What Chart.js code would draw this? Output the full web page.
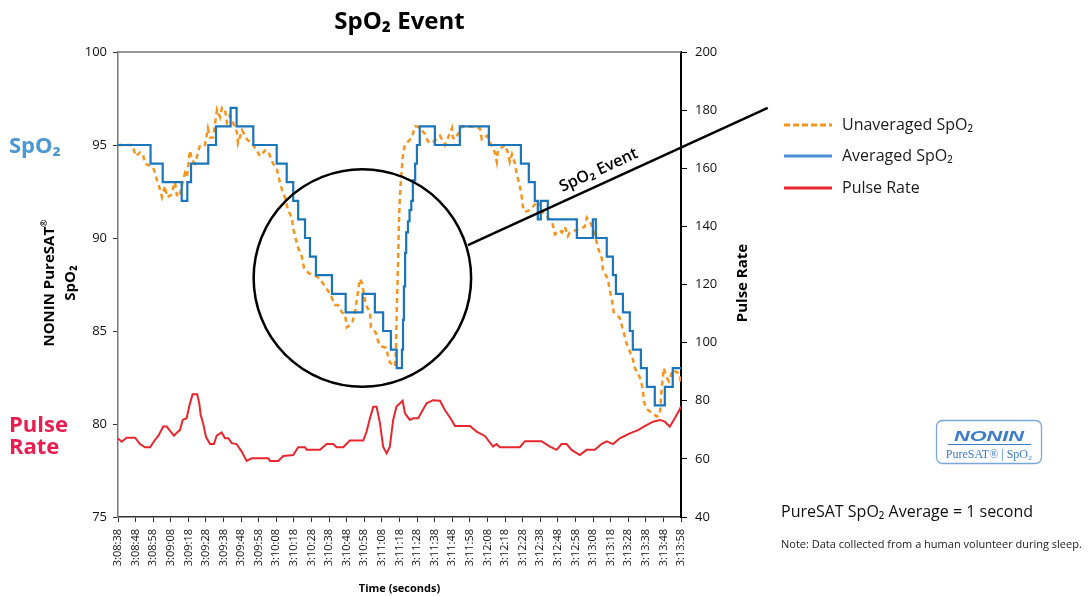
<!DOCTYPE html>
<html>
<head>
<meta charset="utf-8">
<title>SpO2 Event</title>
<script src="https://cdn.jsdelivr.net/npm/chart.js@4.4.1/dist/chart.umd.min.js"></script>
<style>
  html, body { margin: 0; padding: 0; background: #fff; }
  #wrap { position: relative; width: 1089px; height: 596px; }
</style>
</head>
<body>
<div id="wrap"><canvas id="chart" width="1089" height="596"></canvas></div>
<script>
// Time axis: seconds after 3:08:38
const START_SECONDS = 3 * 3600 + 8 * 60 + 38;
const TIME_MIN = 0;
const TIME_MAX = 320;
const TIME_STEP = 10;

// Axis ranges
const spo2Range = [75, 100, 5];
const pulseRange = [40, 200, 20];

// Averaged SpO2 (stepped): second where each level starts, and the level
const avgTime = [0, 18.5, 25.4, 36.2, 39.4, 41.5, 51.3, 55.7, 64, 67.4, 76.9, 90.2, 95.9, 99.6, 102.4,
  106.3, 109.1, 112.5, 121.6, 129.4, 139, 146, 150.7, 155.1, 158.4,
  160.6, 161.4, 162, 162.5, 163.2, 163.8, 164.8, 165.7, 166.7, 167.6, 168.9, 169.9, 171.5,
  180.1, 194.3, 210.8, 229, 233.5, 236.9, 238.6, 240.3, 244.3, 260.8, 269.9, 271.6,
  277.8, 281.3, 283, 287, 290.9, 292.6, 297.2, 300.6, 305.1, 310.8, 315.3, 320];
const avgSpO2 = [95, 94, 93, 92, 93, 94, 95, 96, 97, 96, 95, 94, 93, 92, 91,
  90, 89, 88, 87, 86, 87, 86, 85, 84, 83,
  83, 84, 85.6, 87.4, 89.2, 90.3, 90.9, 91.5, 92, 93.1, 94, 95, 96,
  95, 96, 95, 94, 93, 92, 91, 92, 91, 90, 91, 90,
  89, 88, 87, 86, 85, 84, 83, 82, 81, 82, 83, 83];

// Unaveraged SpO2
const rawTime = [0, 8, 10.2, 12.5, 14.2, 15.3, 19.9, 21, 22.2, 23.9, 25, 26.7, 27.8, 30.1, 32.4, 33.5, 34.7,
  38.1, 39.2, 40.9, 42, 43.8, 46.6, 49.4, 51.1, 52.3, 54, 56.3, 58, 59.1, 60.8, 61.9, 63.6,
  67.6, 68.2, 70.5, 73.3, 76.1, 79.5, 80.7, 83.5, 85.2, 88.1, 90.3, 92, 93.8, 94.9, 96.6, 97.7,
  98.9, 99.4, 100.6, 102.3, 104.5, 105.7, 108.5, 111.9, 114.8, 117.6, 120.5, 123.3, 125, 127.3,
  129, 130.1, 133, 134.7, 136.4, 137.5, 138.6, 140.9, 143.2, 143.8, 146.6, 147.7, 148.9, 152.3,
  154.5, 157.4, 158, 158.5, 159.1, 159.7, 160.2, 160.8, 161.9, 163, 167, 168.8, 170.5, 174.4,
  176.1, 178.4, 183, 185.8, 189.8, 190.3, 191.5, 195.5, 200, 205.7, 206.8, 209.7, 214.2, 215.3,
  215.9, 219.9, 221.6, 222.7, 223.9, 225.6, 226.7, 228.4, 229.5, 230.1, 231.3, 234.1, 236.9,
  238.6, 239.8, 242.6, 245.5, 247.2, 248.3, 251.1, 252.3, 254, 255.7, 256.8, 262.5, 265.3, 266.5,
  268.2, 271, 272.7, 275, 275.6, 278.4, 279.5, 280.7, 281.8, 285.2, 286.9, 289.2, 292.6, 293.8,
  296.6, 298.3, 298.9, 300.6, 303.4, 306.3, 308, 309.1, 310.2, 311.9, 313.1, 315.3, 319.3, 320];
const rawSpO2 = [95, 95, 94.4, 94.6, 94.5, 94, 93.8, 93.5, 93.1, 92.6, 92.2, 92.8, 92.2, 92.3, 93, 92.3, 92.2,
  93.5, 93.3, 94.7, 94.2, 94, 95, 95, 95.9, 95.4, 95.4, 96.9, 96.5, 97, 96.9, 96.2, 96.6,
  95.7, 95.1, 95.8, 95.3, 95.1, 94.6, 94.4, 94.7, 94.7, 94, 93.7, 93, 92.4, 92.2, 91.5, 91.3,
  91.1, 90.6, 90.1, 89.5, 89, 88.4, 88.1, 88, 87.8, 87.4, 87, 86.4, 86.4, 86,
  85.9, 85.2, 85.4, 86, 87.1, 87.8, 87.6, 86.4, 86, 85.2, 84.9, 84.5, 84.2, 84.1,
  83.3, 83.1, 84, 86.4, 88.4, 90.9, 92.2, 93.1, 94.4, 95, 95.4, 96, 96, 95.6,
  95.2, 95.1, 95.5, 95, 95.9, 95.4, 95.3, 96, 96, 95.9, 95.3, 95.5, 94.6, 94.1,
  94.7, 95, 94.6, 94.1, 94.5, 94, 93.4, 92.8, 92.2, 91.7, 91.4, 91.5, 91.8,
  92, 91.5, 91.3, 91, 90.7, 90.2, 90.4, 90.3, 90.6, 90.1, 90.3, 90.5, 90.6, 91.1,
  90.9, 90.2, 89.5, 88.9, 88.3, 87.8, 87.2, 86.7, 86, 85.7, 85.1, 84.3, 83.5, 83,
  82.5, 81.9, 81.2, 80.8, 80.6, 80.4, 80.5, 82, 83, 82.5, 82.3, 82.9, 82.7, 82.1];

// Pulse rate (bpm, right axis)
const pulseTime = [0, 2.1, 4.9, 9.7, 12.5, 15.3, 18.2, 21, 22.9, 25.7, 27.7, 29.5, 31.8, 33.4, 35.2,
  36.8, 39, 40.9, 42.4, 45, 46.2, 47, 48.4, 50, 52.3, 54.5, 56.1, 58.9, 60.8, 62.7, 64.6,
  67.4, 70.3, 73.1, 76, 85.4, 86.4, 91.1, 93.9, 99.6, 102.4, 106.3, 107.2, 114.8, 118.6,
  122.3, 124.3, 128, 131.8, 139.4, 141.3, 143.2, 145.1, 147, 148.9, 150.7, 152.7, 154.5,
  156.4, 158.3, 161.8, 163.1, 165.9, 167.8, 170.6, 175.4, 179, 183, 185.8, 189.6, 191.5,
  200, 203.8, 208.5, 213.2, 215.2, 217, 228.4, 231.3, 240.7, 245.5, 249.3, 252.1, 255,
  257.8, 262.5, 266.3, 271, 274.8, 277.7, 281.4, 285.2, 290.9, 295.6, 299.4, 304.1, 308,
  310.8, 313.6, 316.5, 319.3, 320];
const pulseRate = [67, 65.9, 67.3, 67.3, 65.1, 64, 64, 66.5, 67.9, 71.1, 71.1, 69.7, 68, 69, 69.9,
  73.4, 74, 79.1, 82.2, 82.2, 79.1, 75.1, 72.2, 67.6, 65.1, 65.1, 68, 69.1, 67.1, 67.1, 65.4,
  65.1, 62.5, 59.3, 60.2, 60.2, 59.3, 59.3, 61, 61.3, 64, 64, 63.1, 63.1, 65.1,
  65.1, 64, 64, 66.3, 66.3, 69.4, 74, 77.9, 77.9, 72.2, 64.2, 61.9, 64.2,
  73.4, 78, 80, 75.7, 73.4, 74, 74, 79.1, 80.2, 80, 76.8, 73.4, 71.3,
  71.3, 69.4, 67.9, 64.2, 65.1, 64, 64, 66.1, 66.1, 64.2, 63.1, 65.1, 65.1,
  63.1, 61.3, 63.1, 63.1, 65.1, 66, 65.1, 67.1, 68.8, 69.9, 71.3, 72.8, 73.4,
  72.8, 71.1, 74, 77.1, 78];

// Legend and notes
const legendLabels = ["Unaveraged SpO₂", "Averaged SpO₂", "Pulse Rate"];
const legendColors = ["#f7941e", "#4a90d9", "#e8262d"];

const FONT = "'Open Sans', 'Noto Sans', sans-serif";

// Formatea segundos desde el inicio como h:mm:ss
function formatTime(t) {
  const s = START_SECONDS + Math.round(t);
  const h = Math.floor(s / 3600);
  const m = Math.floor((s % 3600) / 60);
  const sec = s % 60;
  return h + ":" + String(m).padStart(2, "0") + ":" + String(sec).padStart(2, "0");
}

function toPoints(xs, ys) {
  return xs.map((x, i) => ({ x: x, y: ys[i] }));
}

// Draws text with a small raised ® mark
function drawWithReg(ctx, text, x, y, size, align) {
  const parts = text.split("®");
  ctx.font = "bold " + size + "px " + FONT;
  const w1 = ctx.measureText(parts[0]).width;
  ctx.font = "bold " + Math.round(size * 0.6) + "px " + FONT;
  const w2 = ctx.measureText("®").width;
  let start = align === "center" ? x - (w1 + w2) / 2 : x;
  ctx.textAlign = "left";
  ctx.font = "bold " + size + "px " + FONT;
  ctx.fillText(parts[0], start, y);
  ctx.font = "bold " + Math.round(size * 0.6) + "px " + FONT;
  ctx.fillText("®", start + w1, y - size * 0.45);
}

// Frame, event circle, labels, legend, logo
const decorPlugin = {
  id: "decor",
  beforeDatasetsDraw(chart) {
    const { ctx, chartArea } = chart;
    ctx.save();
    ctx.strokeStyle = "#777";
    ctx.lineWidth = 1.5;
    ctx.beginPath();
    ctx.moveTo(chartArea.left, chartArea.top);
    ctx.lineTo(chartArea.right, chartArea.top);
    ctx.stroke();
    ctx.restore();
  },
  afterDraw(chart) {
    const ctx = chart.ctx;
    const xs = chart.scales.x;
    const ys = chart.scales.y;
    ctx.save();

    // Circle around the event
    const cx = xs.getPixelForValue(138.9);
    const cy = ys.getPixelForValue(87.85);
    const r = xs.getPixelForValue(138.9 + 61.8) - cx;
    ctx.strokeStyle = "#000";
    ctx.lineWidth = 2.5;
    ctx.beginPath();
    ctx.arc(cx, cy, r, 0, Math.PI * 2);
    ctx.stroke();

    // Pointer line and its label
    const x1 = xs.getPixelForValue(198.9), y1 = ys.getPixelForValue(89.62);
    const x2 = xs.getPixelForValue(369.3), y2 = ys.getPixelForValue(96.99);
    ctx.beginPath();
    ctx.moveTo(x1, y1);
    ctx.lineTo(x2, y2);
    ctx.stroke();
    const ang = Math.atan2(y2 - y1, x2 - x1);
    const f = 0.455;
    const tx = x1 + (x2 - x1) * f + Math.sin(ang) * 9;
    const ty = y1 + (y2 - y1) * f - Math.cos(ang) * 9;
    ctx.save();
    ctx.translate(tx, ty);
    ctx.rotate(ang);
    ctx.fillStyle = "#000";
    ctx.font = "600 16px " + FONT;
    ctx.textAlign = "center";
    ctx.fillText("SpO₂ Event", 0, 0);
    ctx.restore();

    // Title
    ctx.fillStyle = "#000";
    ctx.textAlign = "center";
    ctx.font = "bold 24px " + FONT;
    ctx.fillText("SpO₂ Event", (chart.chartArea.left + chart.chartArea.right) / 2, 29);

    // Side labels
    ctx.textAlign = "left";
    ctx.font = "bold 22px " + FONT;
    ctx.fillStyle = "#4b97d4";
    ctx.fillText("SpO₂", 9, 153);
    ctx.fillStyle = "#ea1d4f";
    ctx.fillText("Pulse", 9, 432);
    ctx.fillText("Rate", 9, 454);

    // Axis titles
    ctx.fillStyle = "#000";
    ctx.save();
    ctx.translate(54, 283);
    ctx.rotate(-Math.PI / 2);
    drawWithReg(ctx, "NONIN PureSAT®", 0, 0, 15, "center");
    ctx.textAlign = "center";
    ctx.font = "bold 15px " + FONT;
    ctx.fillText("SpO₂", 0, 21);
    ctx.restore();

    ctx.save();
    ctx.translate(747, 283);
    ctx.rotate(-Math.PI / 2);
    ctx.textAlign = "center";
    ctx.font = "bold 15px " + FONT;
    ctx.fillText("Pulse Rate", 0, 0);
    ctx.restore();

    ctx.textAlign = "center";
    ctx.font = "bold 11px " + FONT;
    ctx.fillText("Time (seconds)", (chart.chartArea.left + chart.chartArea.right) / 2, 592);

    // Legend
    const legendY = [125, 156, 188];
    legendLabels.forEach((label, i) => {
      ctx.strokeStyle = legendColors[i];
      ctx.lineWidth = 3;
      ctx.setLineDash(i === 0 ? [6, 3] : []);
      ctx.beginPath();
      ctx.moveTo(784, legendY[i]);
      ctx.lineTo(832, legendY[i]);
      ctx.stroke();
      ctx.setLineDash([]);
      ctx.fillStyle = "#1a1a1a";
      ctx.textAlign = "left";
      ctx.font = "16px " + FONT;
      ctx.fillText(label, 842, legendY[i] + 5);
    });

    // Logo box
    ctx.strokeStyle = "#7aa6dc";
    ctx.lineWidth = 1.3;
    ctx.beginPath();
    ctx.roundRect(936.5, 420.5, 105, 43, 6);
    ctx.stroke();
    ctx.fillStyle = "#3d7cc9";
    ctx.save();
    ctx.translate(989, 441);
    ctx.scale(1.45, 1);
    ctx.textAlign = "center";
    ctx.font = "italic 900 15px 'Liberation Sans', Arial, sans-serif";
    ctx.fillText("NONIN", 0, 0);
    ctx.restore();
    ctx.strokeStyle = "#3d7cc9";
    ctx.lineWidth = 1;
    ctx.beginPath();
    ctx.moveTo(948, 444.5);
    ctx.lineTo(1031, 444.5);
    ctx.stroke();
    ctx.font = "12px 'Liberation Serif', 'DejaVu Serif', serif";
    ctx.textAlign = "center";
    ctx.fillText("PureSAT® | SpO₂", 989, 458);

    // Notes
    ctx.fillStyle = "#111";
    ctx.textAlign = "left";
    ctx.font = "16px " + FONT;
    ctx.fillText("PureSAT SpO₂ Average = 1 second", 781, 517);
    ctx.fillStyle = "#222";
    ctx.font = "11px " + FONT;
    ctx.fillText("Note: Data collected from a human volunteer during sleep.", 781, 548);

    ctx.restore();
  }
};

const chart = new Chart(document.getElementById("chart"), {
  type: "line",
  data: {
    datasets: [
      {
        label: "Averaged SpO₂",
        data: toPoints(avgTime, avgSpO2),
        yAxisID: "y",
        borderColor: "#1b75bb",
        borderWidth: 2.2,
        stepped: true,
        pointRadius: 0
      },
      {
        label: "Unaveraged SpO₂",
        data: toPoints(rawTime, rawSpO2),
        yAxisID: "y",
        borderColor: "#f7941e",
        borderWidth: 2.5,
        borderDash: [5, 4],
        pointRadius: 0,
        tension: 0
      },
      {
        label: "Pulse Rate",
        data: toPoints(pulseTime, pulseRate),
        yAxisID: "y1",
        borderColor: "#e8262d",
        borderWidth: 2,
        pointRadius: 0,
        tension: 0
      }
    ]
  },
  options: {
    responsive: false,
    animation: false,
    layout: { padding: { top: 52, right: 368, bottom: 0, left: 0 } },
    plugins: { legend: { display: false }, tooltip: { enabled: false } },
    scales: {
      x: {
        type: "linear",
        min: TIME_MIN,
        max: TIME_MAX,
        afterFit: s => { s.height = 79; },
        ticks: {
          stepSize: TIME_STEP,
          maxTicksLimit: 40,
          autoSkip: false,
          minRotation: 90,
          maxRotation: 90,
          padding: 7,
          color: "#111",
          font: { family: FONT, size: 11 },
          callback: v => formatTime(v)
        },
        grid: { drawOnChartArea: false, tickLength: 5, color: "#333" },
        border: { color: "#333", width: 1.5 }
      },
      y: {
        position: "left",
        min: spo2Range[0],
        max: spo2Range[1],
        afterFit: s => { s.width = 118; },
        ticks: { stepSize: spo2Range[2], padding: 6, color: "#111", font: { family: FONT, size: 13 } },
        grid: { drawOnChartArea: false, tickLength: 5, color: "#333" },
        border: { color: "#777", width: 1.5 }
      },
      y1: {
        position: "right",
        min: pulseRange[0],
        max: pulseRange[1],
        afterFit: s => { s.width = 40; },
        ticks: { stepSize: pulseRange[2], padding: 8, color: "#111", font: { family: FONT, size: 13 } },
        grid: { drawOnChartArea: false, tickLength: 6, color: "#000" },
        border: { color: "#000", width: 2 }
      }
    }
  },
  plugins: [decorPlugin]
});
</script>
</body>
</html>
